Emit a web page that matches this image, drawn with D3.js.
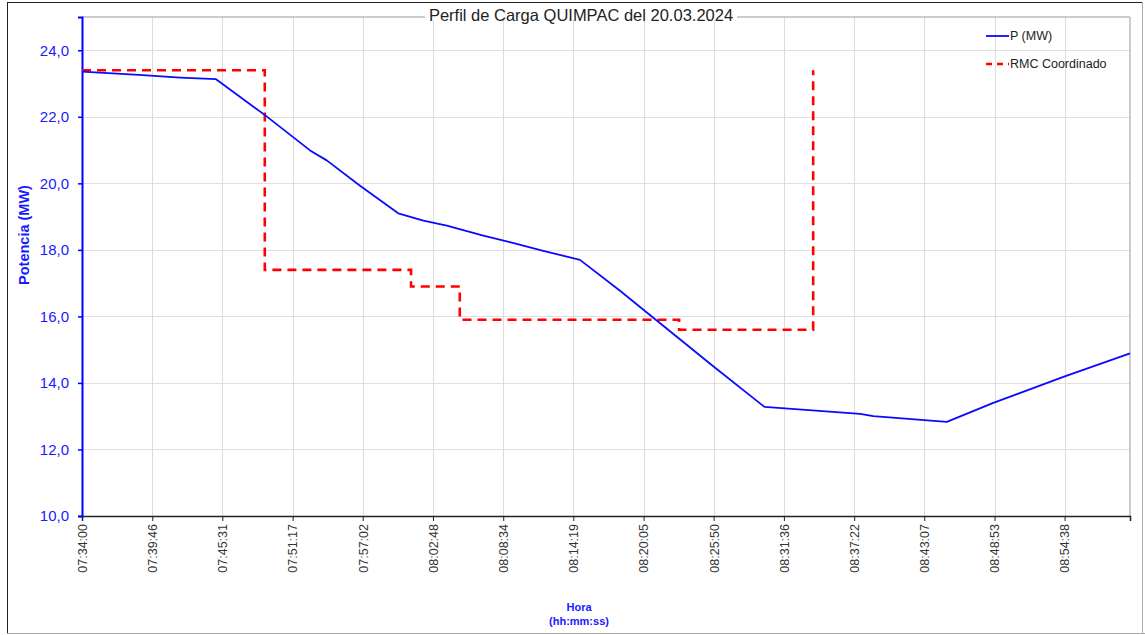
<!DOCTYPE html>
<html>
<head>
<meta charset="utf-8">
<script src="https://cdn.jsdelivr.net/npm/d3@7"></script>
<style>
  html, body { margin: 0; padding: 0; background: #fff; }
  svg { display: block; font-family: "Liberation Sans", Arial, sans-serif; }
</style>
</head>
<body>
<svg id="chart" width="1145" height="635"></svg>
<script>
// ---- data ----
const chartTitle = "Perfil de Carga QUIMPAC del 20.03.2024";
const pLabel = "P (MW)";
const rLabel = "RMC Coordinado";
const pTimes = ["07:34:00","07:38:40","07:42:03","07:45:00","07:49:01","07:52:43","07:54:05","07:56:49","07:59:57","08:02:01","08:03:56","08:06:56","08:09:07","08:11:51","08:14:52","08:18:09","08:20:53","08:25:48","08:30:00","08:37:51","08:38:56","08:44:58","08:48:47","08:54:32","09:00:00"];
const pValues = [23.36,23.26,23.18,23.13,22.05,20.99,20.69,19.93,19.10,18.88,18.73,18.43,18.23,17.97,17.70,16.77,15.96,14.50,13.28,13.07,13.00,12.83,13.40,14.18,14.89];
const rTimes = ["07:34:00","07:49:00","08:01:00","08:05:00","08:23:00","08:34:00"];
const rValues = [23.4,17.4,16.9,15.9,15.6,23.4];
const xTickLabels = ["07:34:00","07:39:46","07:45:31","07:51:17","07:57:02","08:02:48","08:08:34","08:14:19","08:20:05","08:25:50","08:31:36","08:37:22","08:43:07","08:48:53","08:54:38"];
const yTicks = [10,12,14,16,18,20,22,24];
const xStart = "07:34:00", xEnd = "09:00:00";
const yDomain = [10, 25];

// ---- helpers ----
const toSec = s => { const [h,m,x] = s.split(":").map(Number); return h*3600 + m*60 + x; };
const t0 = toSec(xStart);

const svg = d3.select("#chart");
const L = 82, R = 1130, T = 17, B = 516;

// outer frame
svg.append("line").attr("x1",7.5).attr("x2",7.5).attr("y1",2).attr("y2",634).attr("stroke","#222").attr("stroke-width",1);
svg.append("line").attr("x1",7).attr("x2",1143).attr("y1",2.5).attr("y2",2.5).attr("stroke","#222").attr("stroke-width",1);
svg.append("line").attr("x1",7).attr("x2",1145).attr("y1",633.5).attr("y2",633.5).attr("stroke","#aaa").attr("stroke-width",1);
svg.append("line").attr("x1",1142.5).attr("x2",1142.5).attr("y1",2).attr("y2",634).attr("stroke","#aaa").attr("stroke-width",1);

const x = d3.scaleLinear().domain([0, toSec(xEnd) - t0]).range([L, R]);
const y = d3.scaleLinear().domain(yDomain).range([B, T]);

const xTickVals = xTickLabels.map(s => toSec(s) - t0);

// grid
const g = svg.append("g");
g.selectAll(".hg").data(yTicks.filter(v => v > yDomain[0])).join("line")
  .attr("x1", L).attr("x2", R)
  .attr("y1", d => Math.round(y(d)) + 0.5).attr("y2", d => Math.round(y(d)) + 0.5)
  .attr("stroke", "#e0e0e0").attr("stroke-width", 1);
g.selectAll(".vg").data(xTickVals.slice(1)).join("line")
  .attr("x1", d => Math.round(x(d)) + 0.5).attr("x2", d => Math.round(x(d)) + 0.5)
  .attr("y1", T).attr("y2", B)
  .attr("stroke", "#dcdcdc").attr("stroke-width", 1);

// plot top & right border
svg.append("line").attr("x1", L).attr("x2", R).attr("y1", T).attr("y2", T).attr("stroke", "#bbb").attr("stroke-width", 1.5);
svg.append("line").attr("x1", R).attr("x2", R).attr("y1", T).attr("y2", B).attr("stroke", "#bbb").attr("stroke-width", 1.5);

// x axis
const xAxis = d3.axisBottom(x).tickValues(xTickVals).tickFormat((d,i) => xTickLabels[i]).tickSizeOuter(0).tickSize(5);
const gx = svg.append("g").attr("transform", `translate(0,${B})`).call(xAxis);
gx.select(".domain").attr("stroke", "#222").attr("stroke-width", 1.5);
gx.selectAll(".tick line").attr("stroke", "#222");
gx.selectAll(".tick text")
  .attr("transform", "rotate(-90)")
  .attr("text-anchor", "end")
  .attr("x", -8).attr("y", 0).attr("dy", "0.35em")
  .attr("fill", "#333")
  .style("font-size", "12.5px")
  .style("font-family", "'Liberation Sans', Arial, sans-serif");

// y axis
const yAxis = d3.axisLeft(y).tickValues(yTicks).tickFormat(d => d3.format(".1f")(d).replace(".", ",")).tickSizeOuter(0).tickSize(4);
const gy = svg.append("g").attr("transform", `translate(${L},0)`).call(yAxis);
gy.select(".domain").attr("stroke", "#0000ff").attr("stroke-width", 2);
gy.selectAll(".tick line").attr("stroke", "#0000ff").attr("stroke-width", 1.5);
gy.selectAll(".tick text")
  .attr("x", -13)
  .attr("fill", "#1a1aff")
  .style("font-size", "15px")
  .style("font-family", "'Liberation Sans', Arial, sans-serif");

// lines
const pData = pTimes.map((t,i) => ({t: toSec(t) - t0, v: pValues[i]}));
const rData = rTimes.map((t,i) => ({t: toSec(t) - t0, v: rValues[i]}));

svg.append("path").datum(rData)
  .attr("fill", "none").attr("stroke", "#ff0000").attr("stroke-width", 2.6)
  .attr("stroke-dasharray", "9,6")
  .attr("d", d3.line().x(d => x(d.t)).y(d => y(d.v)).curve(d3.curveStepAfter));

svg.append("path").datum(pData)
  .attr("fill", "none").attr("stroke", "#0a0aff").attr("stroke-width", 1.8)
  .attr("stroke-linejoin", "round")
  .attr("d", d3.line().x(d => x(d.t)).y(d => y(d.v)));

// title with white background over the top border
const tg = svg.append("g");
const tbg = tg.append("rect").attr("fill", "#fff");
const title = tg.append("text").attr("x", 581).attr("y", 21)
  .attr("text-anchor", "middle").attr("fill", "#222")
  .style("font-size", "16.5px").text(chartTitle);
const bb = title.node().getBBox();
tbg.attr("x", bb.x - 4).attr("y", T - 3).attr("width", bb.width + 8).attr("height", 6);

// axis titles
svg.append("text").attr("transform", "translate(29,235) rotate(-90)")
  .attr("text-anchor", "middle").attr("fill", "#1a1aff")
  .style("font-size", "14.5px").style("font-weight", "bold").text("Potencia (MW)");
svg.append("text").attr("x", 579).attr("y", 611).attr("text-anchor", "middle")
  .attr("fill", "#1a1aff").style("font-size", "11px").style("font-weight", "bold").text("Hora");
svg.append("text").attr("x", 579).attr("y", 625).attr("text-anchor", "middle")
  .attr("fill", "#1a1aff").style("font-size", "11px").style("font-weight", "bold").text("(hh:mm:ss)");

// legend
const lg = svg.append("g");
lg.append("line").attr("x1", 986).attr("x2", 1009).attr("y1", 36).attr("y2", 36).attr("stroke", "#0a0aff").attr("stroke-width", 1.8);
lg.append("text").attr("x", 1010).attr("y", 36).attr("dy", "0.35em").attr("fill", "#222").style("font-size", "12.5px").text(pLabel);
lg.append("line").attr("x1", 986).attr("x2", 1009).attr("y1", 64).attr("y2", 64).attr("stroke", "#ff0000").attr("stroke-width", 2.6).attr("stroke-dasharray", "6,5");
lg.append("text").attr("x", 1010).attr("y", 64).attr("dy", "0.35em").attr("fill", "#222").style("font-size", "12.5px").text(rLabel);
</script>
</body>
</html>
